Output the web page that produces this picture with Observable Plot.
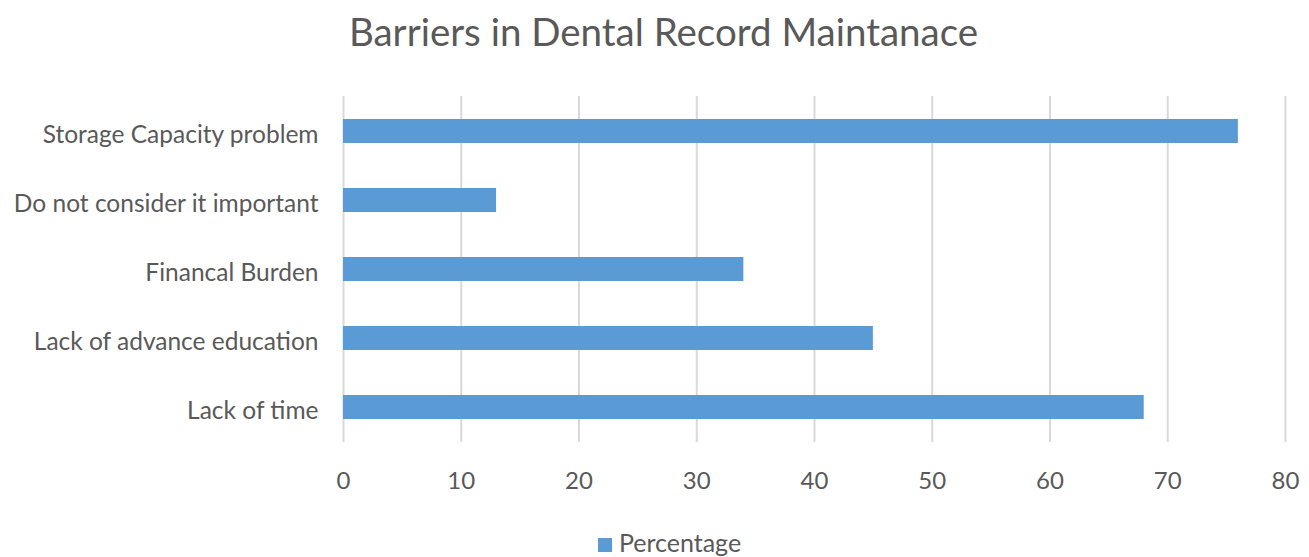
<!DOCTYPE html>
<html>
<head>
<meta charset="utf-8">
<script src="https://cdn.jsdelivr.net/npm/d3@7"></script>
<script src="https://cdn.jsdelivr.net/npm/@observablehq/plot@0.6"></script>
<style>
  html, body { margin: 0; padding: 0; background: #fff; }
  body { width: 1309px; height: 557px; overflow: hidden; font-family: Lato, "Open Sans", sans-serif; color: #595959; }
  #title { height: 75px; text-align: center; font-size: 38.5px; line-height: 62px; color: #595959; padding-left: 18px; }
  #legend { height: 55px; text-align: center; font-size: 25px; line-height: 80px; color: #595959; padding-left: 30px; }
  #legend .sw { display: inline-block; width: 14px; height: 14px; background: #5b9bd5; margin-right: 7px; }
</style>
</head>
<body>
<div id="title">Barriers in Dental Record Maintanace</div>
<div id="chart"></div>
<div id="legend"><span class="sw"></span>Percentage</div>
<script>
const categories = ["Storage Capacity problem", "Do not consider it important", "Financal Burden", "Lack of advance education", "Lack of time"];
const percentages = [76, 13, 34, 45, 68];
const xTicks = [0, 10, 20, 30, 40, 50, 60, 70, 80];
const seriesName = "Percentage";

const data = categories.map((c, i) => ({category: c, value: percentages[i]}));

const chart = Plot.plot({
  width: 1309,
  height: 427,
  marginLeft: 343,
  marginRight: 24,
  marginTop: 21,
  marginBottom: 60,
  style: {fontFamily: "Lato, 'Open Sans', sans-serif", fontSize: "24px", color: "#595959", background: "#fff"},
  x: {domain: [0, 80], ticks: xTicks, tickSize: 0, label: null},
  y: {domain: categories, paddingInner: 0.65, paddingOuter: 0.325, tickSize: 0, label: null},
  marks: [
    Plot.gridX(xTicks, {stroke: "#d9d9d9", strokeOpacity: 1, strokeWidth: 2}),
    Plot.barX(data, {x: "value", y: "category", fill: "#5b9bd5"}),
    Plot.axisX({ticks: xTicks, tickSize: 0, tickPadding: 29, fontSize: 24}),
    Plot.axisY({tickSize: 0, tickPadding: 25, fontSize: 24.5, dy: 4})
  ]
});
document.getElementById("chart").appendChild(chart);
</script>
</body>
</html>
